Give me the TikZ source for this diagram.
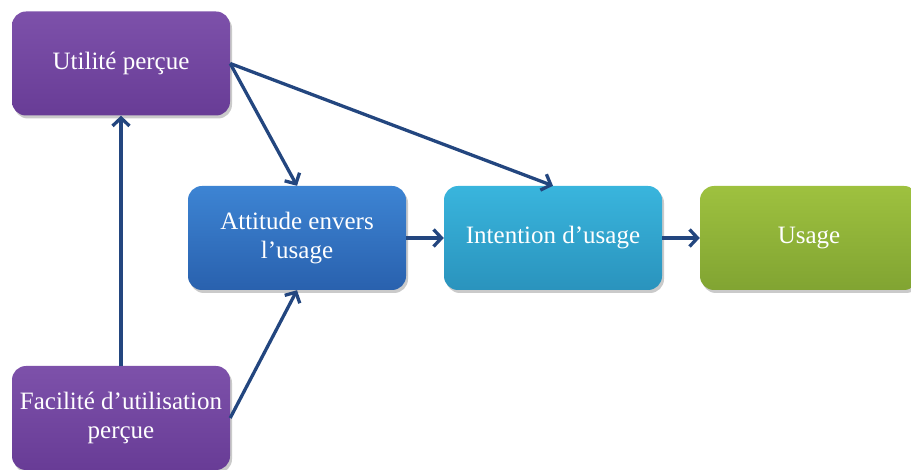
\documentclass[tikz,border=0pt]{standalone}
\usepackage{fontspec}
\setmainfont{Liberation Serif}
\usetikzlibrary{arrows.meta,shadows}
\definecolor{arrowc}{HTML}{23467F}
\tikzset{
  box/.style={minimum width=218pt, minimum height=104pt, rounded corners=14pt,
    text=white, align=center, inner sep=2pt,
    font=\fontsize{25}{29}\selectfont,
    drop shadow={opacity=0.35, shadow xshift=2pt, shadow yshift=-3pt, fill=black!60}},
  purplebox/.style={box, top color=purpTop, bottom color=purpBot},
  bluebox/.style={box, top color=blueTop, bottom color=blueBot},
  cyanbox/.style={box, top color=cyanTop, bottom color=cyanBot},
  greenbox/.style={box, top color=greenTop, bottom color=greenBot},
  conn/.style={draw=arrowc, line width=3.3pt, -{Straight Barb[length=8pt,width=17pt,line width=3.3pt]}}
}
\definecolor{purpTop}{HTML}{7D51AA}
\definecolor{purpBot}{HTML}{683C96}
\definecolor{blueTop}{HTML}{3D84D3}
\definecolor{blueBot}{HTML}{2961AE}
\definecolor{cyanTop}{HTML}{39B5DD}
\definecolor{cyanBot}{HTML}{2A93BD}
\definecolor{greenTop}{HTML}{9EC13F}
\definecolor{greenBot}{HTML}{81A432}
\begin{document}
\begin{tikzpicture}[x=1pt,y=1pt]
\useasboundingbox (0,0) rectangle (911,-470);
\node[purplebox] (u) at (121,-63.5) {Utilité perçue};
\node[bluebox] (a) at (297,-238) {Attitude envers\\l’usage};
\node[cyanbox] (i) at (553,-238) {Intention d’usage};
\node[greenbox] (g) at (809,-238) {Usage};
\node[purplebox] (f) at (121,-418) {Facilité d’utilisation\\perçue};
\draw[conn] (f.north) -- (u.south);
\draw[conn] (u.east) -- (a.north);
\draw[conn] (u.east) -- (i.north);
\draw[conn] (f.east) -- (a.south);
\draw[conn] (a.east) -- (i.west);
\draw[conn] (i.east) -- (g.west);
\end{tikzpicture}
\end{document}
